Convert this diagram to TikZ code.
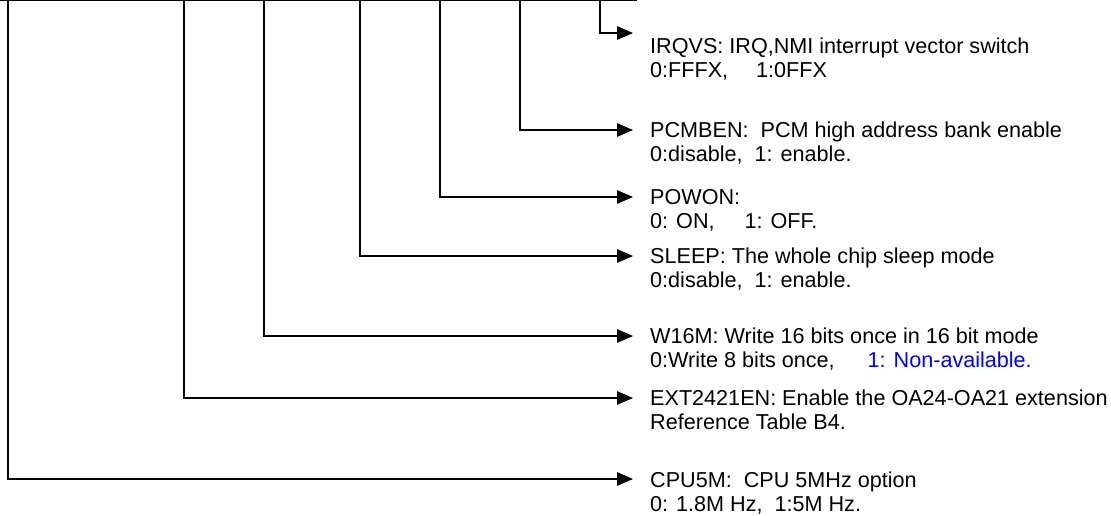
\documentclass[tikz,border=0pt]{standalone}
\usepackage{fontspec}
\setmainfont{Liberation Sans}
\usetikzlibrary{arrows.meta}
\begin{document}
\begin{tikzpicture}[x=1pt,y=-1pt,
  bar/.style={line width=1.3pt},
  conn/.style={line width=1.3pt,-{Triangle[length=16pt,width=13.5pt]}},
  lbl/.style={anchor=base west,inner sep=0pt,font=\fontsize{21.6}{24}\selectfont}]
\useasboundingbox (0,0) rectangle (1111,515);
% top bar
\coordinate (bl) at (0,0.8);
\coordinate (br) at (637,0.8);
\draw[bar] (bl) -- (br);
% junctions on the bar
\coordinate (j1) at (600,0.8);
\coordinate (j2) at (520,0.8);
\coordinate (j3) at (440,0.8);
\coordinate (j4) at (360,0.8);
\coordinate (j5) at (264,0.8);
\coordinate (j6) at (184,0.8);
\coordinate (j7) at (8,0.8);
% arrow tips
\coordinate (a1) at (633,33);
\coordinate (a2) at (633,130);
\coordinate (a3) at (633,197);
\coordinate (a4) at (633,256);
\coordinate (a5) at (633,336);
\coordinate (a6) at (633,398);
\coordinate (a7) at (633,479);
% labels
\node[lbl] (irqvs) at (650,53) {\begin{tabular}[t]{@{}l@{}}IRQVS: IRQ,NMI interrupt vector switch\\0:FFFX,\hspace{28pt}1:0FFX\end{tabular}};
\node[lbl] (pcmben) at (650,137) {\begin{tabular}[t]{@{}l@{}}PCMBEN:\ \ PCM high address bank enable\\0:disable,\ \ 1: enable.\end{tabular}};
\node[lbl] (powon) at (650,204) {\begin{tabular}[t]{@{}l@{}}POWON:\\0: ON,\hspace{30pt}1: OFF.\end{tabular}};
\node[lbl] (sleep) at (650,263) {\begin{tabular}[t]{@{}l@{}}SLEEP: The whole chip sleep mode\\0:disable,\ \ 1: enable.\end{tabular}};
\node[lbl] (w16m) at (650,343) {\begin{tabular}[t]{@{}l@{}}W16M: Write 16 bits once in 16 bit mode\\0:Write 8 bits once,\hspace{33pt}\textcolor{blue}{1: Non-available.}\end{tabular}};
\node[lbl] (ext) at (650,405) {\begin{tabular}[t]{@{}l@{}}EXT2421EN: Enable the OA24-OA21 extension\\Reference Table B4.\end{tabular}};
\node[lbl] (cpu) at (650,487) {\begin{tabular}[t]{@{}l@{}}CPU5M:\ \ CPU 5MHz option\\0: 1.8M Hz,\ \ 1:5M Hz.\end{tabular}};
% connectors
\draw[conn] (j1) |- (a1);
\draw[conn] (j2) |- (a2);
\draw[conn] (j3) |- (a3);
\draw[conn] (j4) |- (a4);
\draw[conn] (j5) |- (a5);
\draw[conn] (j6) |- (a6);
\draw[conn] (j7) |- (a7);
\end{tikzpicture}
\end{document}
